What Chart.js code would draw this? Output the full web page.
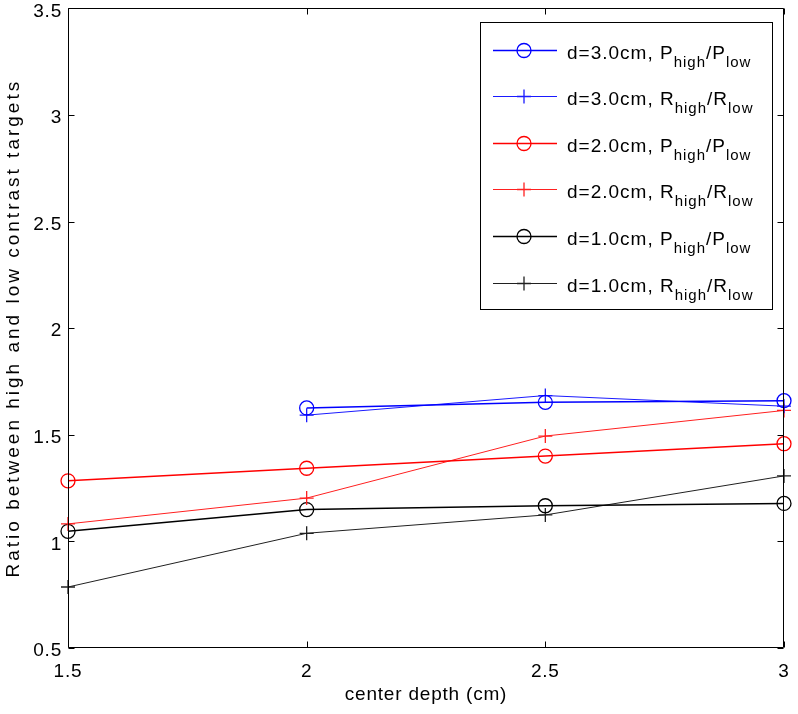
<!DOCTYPE html>
<html><head><meta charset="utf-8">
<script src="https://cdn.jsdelivr.net/npm/chart.js@4.4.1/dist/chart.umd.min.js"></script>
<style>html,body{margin:0;padding:0;background:#fff;}#wrap{width:798px;height:714px;}</style>
</head><body><div id="wrap"><canvas id="c" width="798" height="714"></canvas></div>
<script>
// ---- data ----
const depths = [1.5, 2, 2.5, 3];
const p30 = [null, 1.626, 1.652, 1.660];
const r30 = [null, 1.592, 1.684, 1.634];
const p20 = [1.284, 1.343, 1.400, 1.458];
const r20 = [1.082, 1.203, 1.494, 1.614];
const p10 = [1.047, 1.149, 1.167, 1.178];
const r10 = [0.786, 1.038, 1.124, 1.307];
const xTicks = [1.5, 2, 2.5, 3];
const xTickLabels = ['1.5', '2', '2.5', '3'];
const yTicks = [0.5, 1, 1.5, 2, 2.5, 3, 3.5];
const yTickLabels = ['0.5', '1', '1.5', '2', '2.5', '3', '3.5'];
const seriesLabels = [
  'd=3.0cm, P_{high}/P_{low}',
  'd=3.0cm, R_{high}/R_{low}',
  'd=2.0cm, P_{high}/P_{low}',
  'd=2.0cm, R_{high}/R_{low}',
  'd=1.0cm, P_{high}/P_{low}',
  'd=1.0cm, R_{high}/R_{low}'
];
const xTitle = 'center depth (cm)';
const yTitle = 'Ratio between high and low contrast targets';

const FAM = '"Liberation Sans", Arial, Helvetica, sans-serif';
const FS = 19;
const colors = ['#0000ff', '#1a1aff', '#ff0000', '#ff2020', '#000000', '#202020'];
const series = [p30, r30, p20, r20, p10, r10];

function pts(vals) {
  const out = [];
  depths.forEach((d, i) => { if (vals[i] !== null) out.push({x: d, y: vals[i]}); });
  return out;
}

const datasets = series.map((vals, i) => {
  const isP = i % 2 === 0;
  return {
    label: seriesLabels[i],
    data: pts(vals),
    borderColor: colors[i],
    borderWidth: isP ? 1.5 : 1,
    pointStyle: isP ? 'circle' : 'cross',
    pointRadius: 7,
    pointBorderWidth: 1.3,
    pointBorderColor: colors[i],
    pointBackgroundColor: 'rgba(0,0,0,0)',
    showLine: true,
    tension: 0,
    clip: false
  };
});

function spacedWidth(ctx, text, sp) {
  const prev = ctx.letterSpacing;
  ctx.letterSpacing = '0px';
  const w = ctx.measureText(text).width;
  ctx.letterSpacing = prev;
  return w + sp * text.length;
}

const framePlugin = {
  id: 'frame',
  beforeDraw(chart) {
    chart.ctx.letterSpacing = '0.8px';
    const ys = chart.scales.y;
    if (ys && !ys._patchedTitle) {
      const orig = ys.drawTitle;
      ys.drawTitle = function () {
        const c = this.ctx;
        const prev = c.letterSpacing;
        c.letterSpacing = '3px';
        orig.call(this);
        c.letterSpacing = prev;
      };
      ys._patchedTitle = true;
    }
  },
  afterDraw(chart) {
    const ctx = chart.ctx;
    const a = chart.chartArea;
    const xs = chart.scales.x, ys = chart.scales.y;
    ctx.save();
    ctx.strokeStyle = '#000';
    ctx.lineWidth = 1;
    const L = Math.round(a.left) + 0.5, R = Math.round(a.right) - 0.5;
    const T = Math.round(a.top) + 0.5, B = Math.round(a.bottom) - 0.5;
    ctx.beginPath();
    ctx.rect(L, T, R - L, B - T);
    ctx.stroke();
    const tl = 6;
    ctx.beginPath();
    xTicks.forEach(v => {
      const px = Math.round(xs.getPixelForValue(v)) + 0.5;
      ctx.moveTo(px, B); ctx.lineTo(px, B - tl);
      ctx.moveTo(px, T); ctx.lineTo(px, T + tl);
    });
    yTicks.forEach(v => {
      const py = Math.round(ys.getPixelForValue(v)) + 0.5;
      ctx.moveTo(L, py); ctx.lineTo(L + tl, py);
      ctx.moveTo(R, py); ctx.lineTo(R - tl, py);
    });
    ctx.stroke();

    // legend
    const bx = 480.5, by = 22.5, bw = 292, bh = 287;
    ctx.fillStyle = '#fff';
    ctx.fillRect(bx, by, bw, bh);
    ctx.strokeStyle = '#000';
    ctx.strokeRect(bx, by, bw, bh);
    const row0 = 49.5, step = 46.6;
    chart.data.datasets.forEach((ds, i) => {
      const y = Math.round(row0 + i * step) + 0.5;
      ctx.strokeStyle = ds.borderColor;
      ctx.lineWidth = ds.borderWidth;
      ctx.beginPath();
      ctx.moveTo(493, y); ctx.lineTo(557, y);
      ctx.stroke();
      ctx.lineWidth = ds.pointBorderWidth;
      ctx.fillStyle = 'rgba(0,0,0,0)';
      Chart.helpers.drawPoint(ctx, {pointStyle: ds.pointStyle, radius: ds.pointRadius, borderWidth: ds.pointBorderWidth, rotation: 0}, 524, y);
      const parts = [];
      const re = /_\{([^}]*)\}/g;
      let last = 0, m;
      while ((m = re.exec(ds.label)) !== null) {
        if (m.index > last) parts.push({t: ds.label.slice(last, m.index), sub: false});
        parts.push({t: m[1], sub: true});
        last = re.lastIndex;
      }
      if (last < ds.label.length) parts.push({t: ds.label.slice(last), sub: false});
      let x = 567;
      ctx.fillStyle = '#000';
      ctx.textAlign = 'left';
      ctx.textBaseline = 'alphabetic';
      parts.forEach(p => {
        const sp = p.sub ? 1 : 1;
        ctx.font = (p.sub ? '15px ' : FS + 'px ') + FAM;
        ctx.letterSpacing = sp + 'px';
        ctx.fillText(p.t, x, y + (p.sub ? 16 : 8));
        x += spacedWidth(ctx, p.t, sp);
      });
    });
    ctx.restore();
  }
};

new Chart(document.getElementById('c'), {
  type: 'scatter',
  data: { datasets },
  options: {
    responsive: false,
    animation: false,
    devicePixelRatio: 1,
    layout: { padding: { left: 0, right: 14, top: 5, bottom: 0 } },
    plugins: { legend: { display: false }, tooltip: { enabled: false } },
    scales: {
      x: {
        type: 'linear', min: 1.5, max: 3,
        afterBuildTicks: s => { s.ticks = xTicks.map(v => ({ value: v })); },
        grid: { display: false, drawTicks: false },
        border: { display: false },
        ticks: { padding: 12, color: '#000', font: { family: FAM, size: FS }, maxRotation: 0, autoSkip: false,
                 callback: v => { const i = xTicks.indexOf(v); return i >= 0 ? xTickLabels[i] : ''; } },
        title: { display: true, text: xTitle, color: '#000', font: { family: FAM, size: FS }, padding: { top: 0, bottom: 8 } },
        afterFit: s => { s.height = 66; s.paddingLeft = 0; s.paddingRight = 0; }
      },
      y: {
        type: 'linear', min: 0.5, max: 3.5,
        afterBuildTicks: s => { s.ticks = yTicks.map(v => ({ value: v })); },
        grid: { display: false, drawTicks: false },
        border: { display: false },
        ticks: { padding: 6, labelOffset: 3, color: '#000', font: { family: FAM, size: FS }, autoSkip: false,
                 callback: v => { const i = yTicks.indexOf(v); return i >= 0 ? yTickLabels[i] : ''; } },
        title: { display: true, text: yTitle, color: '#000', font: { family: FAM, size: FS }, padding: { top: 2, bottom: 0 } },
        afterFit: s => { s.width = 68; s.paddingTop = 0; s.paddingBottom = 0; }
      }
    }
  },
  plugins: [framePlugin]
});
</script>
</body></html>
